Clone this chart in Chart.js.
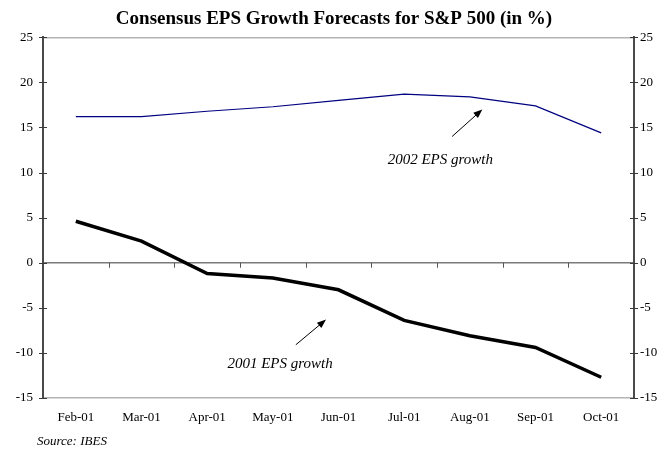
<!DOCTYPE html>
<html>
<head>
<meta charset="utf-8">
<script src="https://cdn.jsdelivr.net/npm/chart.js@4.4.1/dist/chart.umd.min.js"></script>
<style>
  body { margin: 0; background: #fff; }
</style>
</head>
<body>
<canvas id="myChart" width="668" height="450"></canvas>

<script>
    // Mois des prévisions
    var months = ['Feb-01', 'Mar-01', 'Apr-01', 'May-01', 'Jun-01', 'Jul-01', 'Aug-01', 'Sep-01', 'Oct-01'];

    // Croissance BPA attendue (%)
    var eps2002 = [16.2, 16.2, 16.8, 17.3, 18.0, 18.7, 18.4, 17.4, 14.4];
    var eps2001 = [4.6, 2.4, -1.2, -1.7, -3.0, -6.4, -8.1, -9.4, -12.7];

    // Bornes de l'axe des valeurs
    var yMin = -15, yMax = 25, yStep = 5;

    var serif = "'Liberation Serif', 'Times New Roman', serif";
    Chart.defaults.font.family = serif;
    Chart.defaults.color = '#000';

    var ctx = document.getElementById('myChart').getContext('2d');

    // Petits traits de graduation, flèches et textes libres
    var notesPlugin = {
        id: 'notes',
        afterDraw: function(chart) {
            var c = chart.ctx;
            var xs = chart.scales.x;
            var ys = chart.scales.y;
            var area = chart.chartArea;
            c.save();

            // graduations croisées sur les deux axes verticaux
            c.strokeStyle = '#3a3a3a';
            c.lineWidth = 1.2;
            ys.ticks.forEach(function(t) {
                var py = Math.round(ys.getPixelForValue(t.value)) + 0.5;
                c.beginPath();
                c.moveTo(area.left - 4, py); c.lineTo(area.left + 4, py);
                c.moveTo(area.right - 4, py); c.lineTo(area.right + 4, py);
                c.stroke();
            });

            // graduations sous la ligne du zéro, entre les mois
            var y0 = ys.getPixelForValue(0);
            c.strokeStyle = '#555';
            c.lineWidth = 1;
            for (var i = 0; i < months.length - 1; i++) {
                var px = Math.round((xs.getPixelForValue(i) + xs.getPixelForValue(i + 1)) / 2) + 0.5;
                c.beginPath();
                c.moveTo(px, y0); c.lineTo(px, y0 + 5);
                c.stroke();
            }

            function arrow(i1, v1, i2, v2) {
                var x1 = xs.getPixelForValue(i1), y1 = ys.getPixelForValue(v1);
                var x2 = xs.getPixelForValue(i2), y2 = ys.getPixelForValue(v2);
                var a = Math.atan2(y2 - y1, x2 - x1);
                c.strokeStyle = '#000';
                c.fillStyle = '#000';
                c.lineWidth = 1;
                c.beginPath();
                c.moveTo(x1, y1);
                c.lineTo(x2 - 6 * Math.cos(a), y2 - 6 * Math.sin(a));
                c.stroke();
                c.beginPath();
                c.moveTo(x2, y2);
                c.lineTo(x2 - 9 * Math.cos(a) + 3.5 * Math.sin(a), y2 - 9 * Math.sin(a) - 3.5 * Math.cos(a));
                c.lineTo(x2 - 9 * Math.cos(a) - 3.5 * Math.sin(a), y2 - 9 * Math.sin(a) + 3.5 * Math.cos(a));
                c.closePath();
                c.fill();
            }

            function note(text, i, v) {
                c.fillStyle = '#000';
                c.font = 'italic 15px ' + serif;
                c.textAlign = 'center';
                c.textBaseline = 'middle';
                c.fillText(text, xs.getPixelForValue(i), ys.getPixelForValue(v));
            }

            arrow(5.73, 14.0, 6.19, 17.0);
            note('2002 EPS growth', 5.55, 11.4);

            arrow(3.35, -9.1, 3.81, -6.3);
            note('2001 EPS growth', 3.11, -11.2);

            // source
            c.font = 'italic 13px ' + serif;
            c.textAlign = 'left';
            c.textBaseline = 'middle';
            c.fillText('Source: IBES', 37, 442);

            c.restore();
        }
    };

    function gridColor(context) {
        var v = context.tick ? context.tick.value : null;
        if (v === 0) return '#7a7a7a';
        if (v === yMax || v === yMin) return '#b4b4b4';
        return 'rgba(0,0,0,0)';
    }

    var myChart = new Chart(ctx, {
        type: 'line',
        data: {
            labels: months,
            datasets: [{
                label: '2002 EPS growth',
                data: eps2002,
                borderColor: '#000080',
                borderWidth: 1.2,
                pointRadius: 0,
                tension: 0,
                fill: false
            }, {
                label: '2001 EPS growth',
                data: eps2001,
                borderColor: '#000',
                borderWidth: 3.5,
                pointRadius: 0,
                tension: 0,
                fill: false
            }]
        },
        options: {
            responsive: false,
            animation: false,
            layout: { padding: { top: 0, bottom: 22, left: 0, right: 0 } },
            plugins: {
                legend: { display: false },
                tooltip: { enabled: false },
                title: {
                    display: true,
                    text: 'Consensus EPS Growth Forecasts for S&P 500 (in %)',
                    font: { size: 19, weight: 'bold', family: serif },
                    color: '#000',
                    padding: { top: 7.5, bottom: 7 }
                }
            },
            scales: {
                x: {
                    offset: true,
                    grid: { display: false, drawTicks: false },
                    border: { display: false },
                    ticks: { font: { size: 13 }, padding: 12, maxRotation: 0 },
                    afterFit: function(scale) { scale.height = 30; }
                },
                y: {
                    position: 'left',
                    min: yMin,
                    max: yMax,
                    ticks: { stepSize: yStep, font: { size: 13 }, padding: 10 },
                    grid: { color: gridColor, lineWidth: 1.4, drawTicks: false },
                    border: { color: '#4a4a4a', width: 2 },
                    afterFit: function(scale) { scale.width = 43; }
                },
                y2: {
                    position: 'right',
                    min: yMin,
                    max: yMax,
                    ticks: { stepSize: yStep, font: { size: 13 }, padding: 6 },
                    grid: { drawOnChartArea: false, drawTicks: false },
                    border: { color: '#4a4a4a', width: 2 },
                    afterFit: function(scale) { scale.width = 34; }
                }
            }
        },
        plugins: [notesPlugin]
    });
</script>
</body>
</html>
